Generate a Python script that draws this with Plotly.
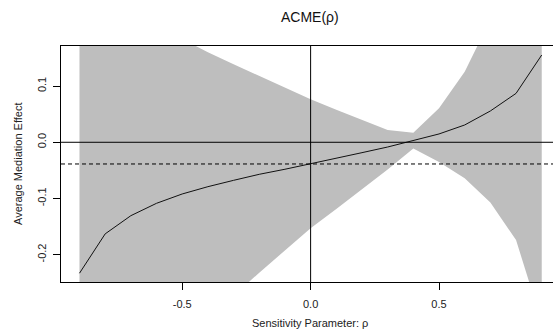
import plotly.graph_objects as go

# Sensitivity analysis of the average causal mediation effect (ACME)
rho = [-0.9, -0.8, -0.7, -0.6, -0.5, -0.4, -0.3, -0.2, -0.1, 0.0,
       0.1, 0.2, 0.3, 0.4, 0.5, 0.6, 0.7, 0.8, 0.9]
acme = [-0.233, -0.163, -0.1306, -0.1086, -0.092, -0.079, -0.0677, -0.057, -0.048, -0.0386,
        -0.0285, -0.0185, -0.0084, 0.003, 0.0148, 0.0308, 0.0557, 0.087, 0.1553]
ci_upper = [0.42, 0.31, 0.24, 0.205, 0.184, 0.160, 0.139, 0.118, 0.097, 0.0765,
            0.058, 0.040, 0.0219, 0.017, 0.0605, 0.1257, 0.218, 0.348, 0.63]
ci_lower = [-0.88, -0.63, -0.50, -0.42, -0.36, -0.317, -0.273, -0.232, -0.193, -0.153,
            -0.1185, -0.0835, -0.0486, -0.011, -0.035, -0.064, -0.107, -0.174, -0.32]

x_ticks = [-0.5, 0.0, 0.5]
x_tick_text = ["-0.5", "0.0", "0.5"]
y_ticks = [-0.2, -0.1, 0.0, 0.1]
y_tick_text = ["-0.2", "-0.1", "0.0", "0.1"]

acme_at_zero = acme[rho.index(0.0)]

W, H = 553, 331
L, T, B = 61, 46, 49
FONT = "Liberation Sans, Arial, sans-serif"
BAND = "#BEBEBE"

fig = go.Figure()

# confidence band
fig.add_trace(go.Scatter(x=rho, y=ci_upper, mode="lines", line=dict(width=0, color=BAND),
                         hoverinfo="skip", showlegend=False))
fig.add_trace(go.Scatter(x=rho, y=ci_lower, mode="lines", line=dict(width=0, color=BAND),
                         fill="tonexty", fillcolor=BAND, hoverinfo="skip", showlegend=False))
# point estimate
fig.add_trace(go.Scatter(x=rho, y=acme, mode="lines", line=dict(width=1, color="#111111"),
                         showlegend=False))

# reference lines
fig.add_hline(y=0, line=dict(color="#000000", width=1), layer="above")
fig.add_vline(x=0, line=dict(color="#000000", width=1), layer="above")
fig.add_hline(y=acme_at_zero, line=dict(color="#000000", width=1, dash="4px,3px"), layer="above")

fig.update_layout(
    width=W, height=H,
    margin=dict(l=L, r=0, t=T, b=B),
    paper_bgcolor="white", plot_bgcolor="white",
    font=dict(family=FONT, size=11, color="#222222"),
    showlegend=False,
    xaxis=dict(
        range=[-0.972, 0.9439], tickvals=x_ticks, ticktext=x_tick_text,
        showgrid=False, zeroline=False, showline=True, mirror=True,
        linecolor="#000000", linewidth=1,
        ticks="outside", ticklen=7, tickcolor="#000000", tickwidth=1,
        ticklabelstandoff=5,
        tickfont=dict(size=11, family=FONT, color="#222222"),
    ),
    yaxis=dict(
        range=[-0.2486, 0.1713], tickvals=y_ticks, ticktext=y_tick_text,
        showgrid=False, zeroline=False, showline=True, mirror=False,
        linecolor="#000000", linewidth=1,
        ticks="outside", ticklen=7, tickcolor="#000000", tickwidth=1,
        tickangle=-90, ticklabelstandoff=3,
        tickfont=dict(size=11, family=FONT, color="#222222"),
    ),
    annotations=[
        dict(text="ACME(ρ)", xref="paper", yref="paper", x=0.507, y=(282 - 16.7) / 236,
             xanchor="center", yanchor="middle", showarrow=False,
             font=dict(size=14, family=FONT, color="#111111")),
        dict(text="Sensitivity Parameter: ρ", xref="paper", yref="paper", x=0.507,
             y=(282 - 323) / 236, xanchor="center", yanchor="middle", showarrow=False,
             font=dict(size=11, family=FONT, color="#222222")),
        dict(text="Average Mediation Effect", xref="paper", yref="paper",
             x=(18 - L) / 492, y=0.5, xanchor="center", yanchor="middle",
             textangle=-90, showarrow=False,
             font=dict(size=11, family=FONT, color="#222222")),
    ],
)

fig.write_html("out.html")
